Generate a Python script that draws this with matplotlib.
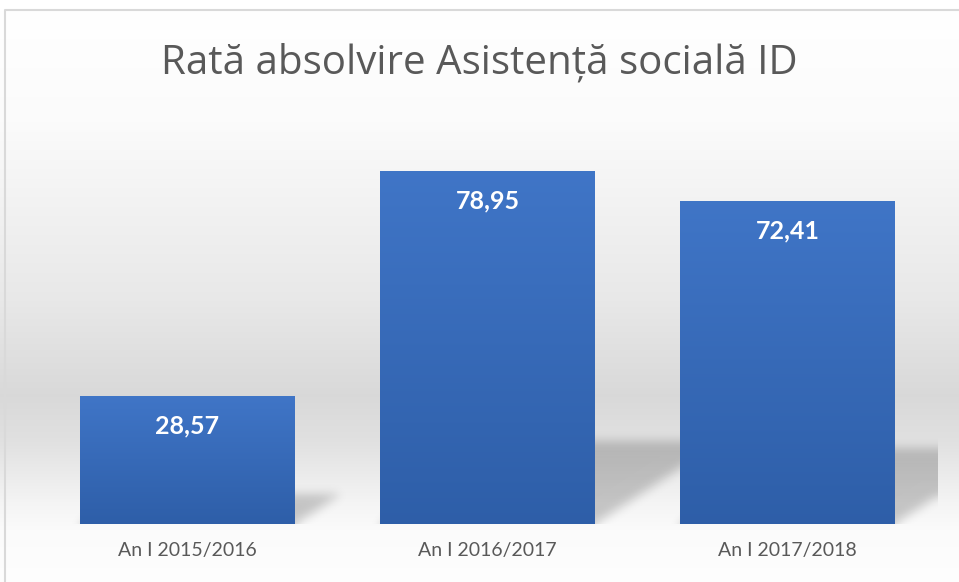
import numpy as np
import matplotlib
matplotlib.use("Agg")
import matplotlib.pyplot as plt

# data
categories = ["An I 2015/2016", "An I 2016/2017", "An I 2017/2018"]
values = [28.57, 78.95, 72.41]
title = "Rată absolvire Asistență socială ID"

W, H, DPI = 959, 582, 100
plt.rcParams['font.family'] = ['Lato', 'DejaVu Sans']

fig = plt.figure(figsize=(W / DPI, H / DPI), dpi=DPI)

# background gradient for the whole chart area
bg = fig.add_axes([0, 0, 1, 1], zorder=0)
ys = np.arange(H)
yk = [0, 10, 120, 300, 395, 440, 500, 530, 582]
gk = [1.0, 1.0, 0.985, 0.91, 0.85, 0.88, 0.955, 0.985, 0.995]
grey = np.interp(ys, yk, gk)
img = np.repeat(grey[:, None], W, axis=1)
bg.imshow(np.dstack([img, img, img]), extent=(0, W, H, 0), aspect="auto")
bg.set_xlim(0, W)
bg.set_ylim(H, 0)
bg.axis("off")
# border
bg.plot([4.5, 4.5, W + 2], [H + 2, 9.5, 9.5], color="#d9d9d9", lw=1.5)

# plot area
left_px, right_px = 37.5, 937.5
base_px, top_px = 524, 122
ymax = 90
ax = fig.add_axes([left_px / W, (H - base_px) / H,
                   (right_px - left_px) / W, (base_px - top_px) / H], zorder=1)
ax.patch.set_alpha(0)
ax.set_xlim(-0.5, len(categories) - 0.5)
ax.set_ylim(0, ymax)

bar_w = 215 / 300
x = np.arange(len(categories))

# perspective shadows (built from bar values, then softened)
nx, ny = int(right_px - left_px), int(base_px - top_px)
gx = np.linspace(-0.5, len(categories) - 0.5, nx)
gy = np.linspace(0, ymax, ny)
GX, GY = np.meshgrid(gx, gy)
mask = np.zeros_like(GX)
for xi, v in zip(x, values):
    sh = 0.235 * v
    dx = 0.36 * v * (ny / ymax) / 300
    t = np.clip(GY / sh, 0, None)
    inside = (GY <= sh) & (GX >= xi - bar_w / 2 + dx * t) & (GX <= xi + bar_w / 2 + dx * t)
    mask = np.maximum(mask, inside.astype(float))

def blur(a, sigma):
    r = int(3 * sigma)
    k = np.exp(-0.5 * (np.arange(-r, r + 1) / sigma) ** 2)
    k /= k.sum()
    a = np.pad(a, r, mode="edge")
    a = np.apply_along_axis(lambda m: np.convolve(m, k, mode="same"), 0, a)
    a = np.apply_along_axis(lambda m: np.convolve(m, k, mode="same"), 1, a)
    return a[r:-r, r:-r]

mask = blur(mask, 5)
shadow = np.zeros((ny, nx, 4))
shadow[..., 3] = mask * 0.2
ax.imshow(shadow, extent=(-0.5, len(categories) - 0.5, 0, ymax),
          origin="lower", aspect="auto", zorder=1, interpolation="bilinear")

# bars
bars = ax.bar(x, values, width=bar_w, color="#3a6bbd", zorder=2)
top_c = np.array([0.25, 0.46, 0.78])
bot_c = np.array([0.18, 0.37, 0.66])
for b, v in zip(bars, values):
    t = np.linspace(0, 1, 256)[:, None]
    col = bot_c * (1 - t) + top_c * t
    gimg = np.repeat(col[:, None, :], 2, axis=1)
    im = ax.imshow(gimg, extent=(b.get_x(), b.get_x() + b.get_width(), 0, v),
                   origin="lower", aspect="auto", zorder=3)
    im.set_clip_path(b)
    ax.annotate(f"{v:.2f}".replace(".", ","), (b.get_x() + b.get_width() / 2, v),
                xytext=(0, -30), textcoords="offset pixels", ha="center",
                va="center", color="white", fontsize=18, fontweight="bold",
                zorder=4)

ax.set_ylim(0, ymax)
ax.set_xlim(-0.5, len(categories) - 0.5)
ax.set_xticks(x)
ax.set_xticklabels(categories, fontsize=14, color="#595959")
ax.tick_params(axis="x", length=0, pad=13)
ax.set_yticks([])
for s in ax.spines.values():
    s.set_visible(False)

fig.text(479 / W, 1 - 73 / H, title, ha="center", va="baseline",
         fontsize=29, color="#595959", family=["Open Sans", "DejaVu Sans"])

fig.savefig("out.png", dpi=DPI)
